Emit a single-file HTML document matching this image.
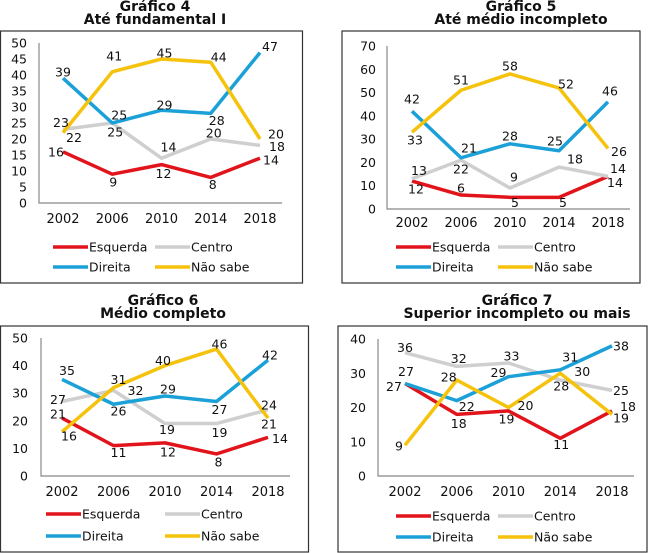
<!DOCTYPE html>
<html><head><meta charset="utf-8"><style>
html,body{margin:0;padding:0;background:#fff;width:650px;height:553px;overflow:hidden}
svg{display:block}
text{font-family:"DejaVu Sans","Liberation Sans",sans-serif;fill:#111}
</style></head><body>
<svg id="s" width="650" height="553"></svg>
<script>
const years = ["2002","2006","2010","2014","2018"];
const seriesNames = ["Esquerda","Centro","Direita","Não sabe"];
const titles4 = ["Gráfico 4","Até fundamental I"];
const titles5 = ["Gráfico 5","Até médio incompleto"];
const titles6 = ["Gráfico 6","Médio completo"];
const titles7 = ["Gráfico 7","Superior incompleto ou mais"];
const ticks4 = [0,5,10,15,20,25,30,35,40,45,50];
const ticks5 = [0,10,20,30,40,50,60,70];
const ticks6 = [0,10,20,30,40,50];
const ticks7 = [0,10,20,30,40];
const esq4 = [16,9,12,8,14];
const cen4 = [23,25,14,20,18];
const dir4 = [39,25,29,28,47];
const ns4 = [22,41,45,44,20];
const esq5 = [12,6,5,5,14];
const cen5 = [13,21,9,18,14];
const dir5 = [42,22,28,25,46];
const ns5 = [33,51,58,52,26];
const esq6 = [21,11,12,8,14];
const cen6 = [27,31,19,19,24];
const dir6 = [35,26,29,27,42];
const ns6 = [16,32,40,46,21];
const esq7 = [27,18,19,11,19];
const cen7 = [36,32,33,28,25];
const dir7 = [27,22,29,31,38];
const ns7 = [9,28,20,30,18];

const colors = ["#e2141b","#cfcfcf","#1ba1d8","#f5c20c"];
const NS = "http://www.w3.org/2000/svg";
const svg = document.getElementById('s');
function mk(tag, attrs, parent){const e=document.createElementNS(NS,tag);for(const k in attrs)e.setAttribute(k,attrs[k]);(parent||svg).appendChild(e);return e;}

const charts = [
 {id:"grafico-4", titles:titles4, ticks:ticks4, data:[esq4,cen4,dir4,ns4], box:[0.5,31,302,252], t1:[155,11], t2:[155,24],
  ax:39, y0:203, yTop:43, x0:63, x1:260, tickR:27, xl:223, lg:[247,267], lx:[53,155],
  off:[[[-7,0],[1,8],[2,9],[2,7],[11,2]],[[-2,-7],[3,9],[7,-11],[3,-6],[17,1]],[[0,-6],[7,-8],[3,-5],[6,7],[10,-6]],[[11,5],[2,-16],[3,-6],[8,-5],[16,-5]]]},
 {id:"grafico-5", titles:titles5, ticks:ticks5, data:[esq5,cen5,dir5,ns5], box:[342,31,298,252], t1:[521,11], t2:[521,24],
  ax:387, y0:209, yTop:46, x0:412, x1:608, tickR:376, xl:227, lg:[247,267], lx:[396,498],
  off:[[[4,8],[0,-7],[5,5],[4,5],[7,6]],[[7,-8],[8,-12],[4,-11],[16,-8],[10,-8]],[[0,-12],[0,11],[0,-8],[-4,-10],[2,-11]],[[3,8],[0,-10],[0,-8],[7,-4],[11,3]]]},
 {id:"grafico-6", titles:titles6, ticks:ticks6, data:[esq6,cen6,dir6,ns6], box:[0.5,326,308,226], t1:[163,305], t2:[163,318],
  ax:41, y0:476, yTop:338, x0:62, x1:268, tickR:28, xl:496, lg:[514,536], lx:[46,165],
  off:[[[-4,-4],[5,7],[3,9],[2,8],[12,1]],[[-4,-2],[5,-11],[2,6],[3,9],[1,-5]],[[5,-9],[5,7],[3,-7],[3,8],[2,-5]],[[7,4],[22,3],[-2,-5],[3,-5],[1,6]]]},
 {id:"grafico-7", titles:titles7, ticks:ticks7, data:[esq7,cen7,dir7,ns7], box:[338,326,309,226], t1:[517,305], t2:[517,318],
  ax:378, y0:476, yTop:339, x0:405, x1:612, tickR:366, xl:496, lg:[516,537], lx:[396,498],
  off:[[[-11,3],[2,9],[-2,8],[1,6],[9,7]],[[0,-5],[2,-8],[3,-7],[1,6],[9,0]],[[1,-12],[10,6],[-10,-4],[10,-13],[9,0]],[[-6,1],[-8,-3],[17,-2],[22,-2],[16,-8]]]}
];

charts.forEach(c=>{
  const g = mk('g',{});
  
  
  const tt1 = mk('text',{x:c.t1[0],y:c.t1[1],'text-anchor':'middle','font-size':'14','font-weight':'bold'},g);
  tt1.textContent = c.titles[0];
  
  
  const tt2 = mk('text',{x:c.t2[0],y:c.t2[1],'text-anchor':'middle','font-size':'14','font-weight':'bold'},g);
  tt2.textContent = c.titles[1];
  
  
  const bx = mk('rect',{x:c.box[0],y:c.box[1],width:c.box[2],height:c.box[3],fill:'none',stroke:'#333','stroke-width':'1.2'},g);
  
  
  const maxT = c.ticks[c.ticks.length-1];
  const yS = v => c.y0 - (c.y0 - c.yTop) * v / maxT;
  const xS = i => c.x0 + (c.x1 - c.x0) * i / (years.length-1);
  const axes = mk('path',{d:`M${c.ax} ${c.yTop}V${c.y0}H${c.x1+22}`,fill:'none',stroke:'#888','stroke-width':'1.2'},g);
  
  
  c.ticks.forEach(t=>{
    const e = mk('text',{x:c.tickR,y:yS(t)+4.5,'text-anchor':'end','font-size':'12.5'},g);
    e.textContent = t;
    
    
  });
  years.forEach((yr,i)=>{
    const e = mk('text',{x:xS(i),y:c.xl,'text-anchor':'middle','font-size':'13'},g);
    e.textContent = yr;
    
    
  });
  c.data.forEach((vals,s)=>{
    const pts = vals.map((v,i)=>xS(i)+','+yS(v)).join(' ');
    const pl = mk('polyline',{points:pts,fill:'none',stroke:colors[s],'stroke-width':'3.5','stroke-linejoin':'round'},g);
    
    
  });
  c.data.forEach((vals,s)=>{
    vals.forEach((v,i)=>{
      const o = c.off[s][i];
      const e = mk('text',{x:xS(i)+o[0],y:yS(v)+o[1]+4.5,'text-anchor':'middle','font-size':'12.5'},g);
      e.textContent = v;
      
      
    });
  });
  seriesNames.forEach((n,s)=>{
    const lx = c.lx[s%2], ly = c.lg[Math.floor(s/2)];
    const ln = mk('line',{x1:lx,y1:ly,x2:lx+35,y2:ly,stroke:colors[s],'stroke-width':'3.5'},g);
    
    
    const e = mk('text',{x:lx+36,y:ly+4.5,'font-size':'12.5'},g);
    e.textContent = n;
    
    
  });
});
</script>
</body></html>
